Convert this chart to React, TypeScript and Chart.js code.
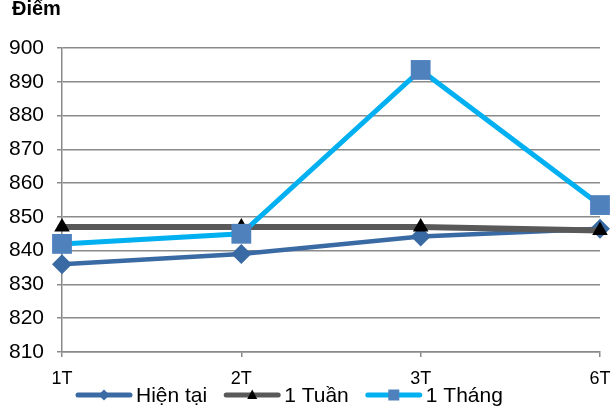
import React, { useEffect, useRef } from "react";
import { Chart, registerables } from "chart.js";

Chart.register(...registerables);

const categories = ["1T", "2T", "3T", "6T"];
const seriesNames = ["Hiện tại", "1 Tuần", "1 Tháng"];
const hienTai = [836, 839, 844.2, 846.5];
const motTuan = [847, 847, 847, 846];
const motThang = [842, 845, 893.5, 853.5];
const yMin = 810;
const yMax = 900;
const yStep = 10;
const yTitle = "Điểm";

const FONT = "'Liberation Sans', Arial, sans-serif";
const GRID = "#8a8a8a";
const C_HIEN = "#3a6aa3";
const C_TUAN = "#595959";
const C_THANG = "#00b0f0";
const C_SQUARE = "#4f81bd";

const legendMarkers = ["diamond", "triangle", "square"];
const legendMarkerColors = [C_HIEN, "#000000", C_SQUARE];

function drawLegendMarker(ctx: CanvasRenderingContext2D, kind: string, cx: number, cy: number) {
  ctx.beginPath();
  if (kind === "diamond") {
    ctx.moveTo(cx, cy - 5.5);
    ctx.lineTo(cx + 5.5, cy);
    ctx.lineTo(cx, cy + 5.5);
    ctx.lineTo(cx - 5.5, cy);
  } else if (kind === "triangle") {
    ctx.moveTo(cx, cy - 5.5);
    ctx.lineTo(cx + 5, cy + 4);
    ctx.lineTo(cx - 5, cy + 4);
  } else {
    ctx.rect(cx - 5.5, cy - 5.5, 11, 11);
  }
  ctx.closePath();
  ctx.fill();
}

export default function App() {
  const ref = useRef<HTMLCanvasElement>(null);
  useEffect(() => {
    document.body.style.margin = "0";
    const extrasPlugin = {
      id: "extras",
      afterDraw(chart: any) {
        const ctx = chart.ctx as CanvasRenderingContext2D;
        ctx.save();
        // axis title at top-left
        ctx.font = `bold 20px ${FONT}`;
        ctx.fillStyle = "#000";
        ctx.textAlign = "left";
        ctx.textBaseline = "alphabetic";
        ctx.fillText(yTitle, 12, 15);
        // category labels under the x axis, at the scale's tick positions
        const xs = chart.scales.x;
        ctx.font = `18px ${FONT}`;
        ctx.textAlign = "center";
        ctx.textBaseline = "middle";
        chart.data.labels.forEach((lab: string, i: number) => {
          ctx.fillText(lab, xs.getPixelForTick(i), xs.top + 27);
        });
        // legend row
        const y = 395;
        let x = 76;
        ctx.font = `21px ${FONT}`;
        ctx.textAlign = "left";
        chart.data.datasets.forEach((ds: any, i: number) => {
          ctx.strokeStyle = ds.borderColor;
          ctx.lineWidth = 5;
          ctx.lineCap = "round";
          ctx.beginPath();
          ctx.moveTo(x + 2, y);
          ctx.lineTo(x + 54, y);
          ctx.stroke();
          ctx.fillStyle = legendMarkerColors[i];
          drawLegendMarker(ctx, legendMarkers[i], x + 28, y);
          ctx.fillStyle = "#000";
          const tx = x + 60;
          ctx.fillText(ds.label, tx, y + 1);
          x = tx + ctx.measureText(ds.label).width + 17;
        });
        ctx.restore();
      },
    };
    const chart = new Chart(ref.current!, {
      type: "line",
      data: {
        labels: categories,
        datasets: [
          {
            label: seriesNames[0],
            data: hienTai,
            borderColor: C_HIEN,
            backgroundColor: C_HIEN,
            borderWidth: 4.5,
            pointStyle: "rectRot",
            pointRadius: 10,
            pointBorderWidth: 0,
            pointBackgroundColor: C_HIEN,
            order: 3,
          },
          {
            label: seriesNames[1],
            data: motTuan,
            borderColor: C_TUAN,
            backgroundColor: "#000",
            borderWidth: 6,
            pointStyle: "triangle",
            pointRadius: 9,
            pointBorderWidth: 0,
            pointBackgroundColor: "#000",
            order: 2,
          },
          {
            label: seriesNames[2],
            data: motThang,
            borderColor: C_THANG,
            backgroundColor: C_SQUARE,
            borderWidth: 5,
            pointStyle: "rect",
            pointRadius: 14,
            pointBorderWidth: 0,
            pointBackgroundColor: C_SQUARE,
            order: 1,
          },
        ],
      },
      options: {
        animation: false,
        responsive: false,
        devicePixelRatio: 1,
        layout: { padding: { top: 48, right: 12, left: 0, bottom: 21 } },
        plugins: {
          tooltip: { enabled: false },
          title: { display: false },
          legend: { display: false },
        },
        scales: {
          x: {
            type: "category",
            offset: false,
            afterFit: (s: any) => {
              s.height = 36;
            },
            grid: {
              drawOnChartArea: false,
              drawTicks: true,
              tickLength: 5,
              color: GRID,
              lineWidth: 1.5,
            },
            border: { display: true, color: GRID, width: 1.5 },
            ticks: { display: false, autoSkip: false },
          },
          y: {
            min: yMin,
            max: yMax,
            afterFit: (s: any) => {
              s.width = 62;
            },
            grid: {
              color: GRID,
              lineWidth: 1.5,
              drawTicks: true,
              tickLength: 5,
            },
            border: { display: true, color: GRID, width: 1.5 },
            ticks: {
              stepSize: yStep,
              color: "#000",
              padding: 13,
              font: { family: FONT, size: 21 },
            },
          },
        },
      },
      plugins: [extrasPlugin],
    } as any);
    return () => chart.destroy();
  }, []);
  return (
    <div style={{ width: 614, height: 409, overflow: "hidden" }}>
      <canvas ref={ref} width={614} height={409} style={{ display: "block" }} />
    </div>
  );
}
